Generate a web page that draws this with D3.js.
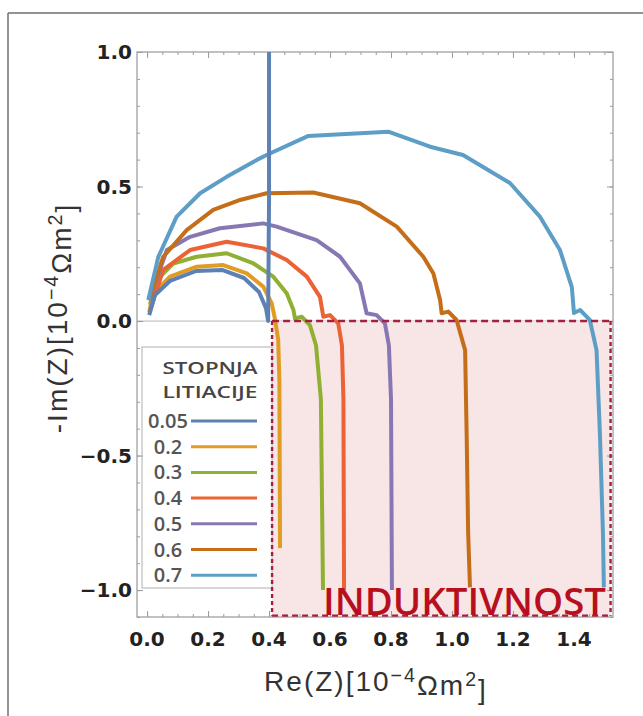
<!DOCTYPE html>
<html><head><meta charset="utf-8">
<script src="https://cdn.jsdelivr.net/npm/d3@7"></script>
<style>body{margin:0;background:#fff}svg{display:block}</style>
</head><body><svg id="c" width="643" height="716"></svg>
<script>
// ---------- data ----------
const levels = ["0.05","0.2","0.3","0.4","0.5","0.6","0.7"];
const seriesColors = ["#5E81B5","#E19C24","#8FB032","#EB6235","#8778B3","#C56E1A","#5D9EC7"];

const s005 = [[0.007,0.022],[0.026,0.097],[0.075,0.149],[0.161,0.186],[0.246,0.19],[0.318,0.16],[0.367,0.108],[0.39,0.048],[0.397,0.0],[0.4,0.45],[0.4,1.05]];
const s02  = [[0.007,0.033],[0.021,0.103],[0.075,0.165],[0.163,0.202],[0.25,0.208],[0.327,0.177],[0.381,0.128],[0.409,0.066],[0.42,0.004],[0.43,-0.07],[0.434,-0.22],[0.436,-0.844]];
const s03  = [[0.01,0.06],[0.021,0.14],[0.086,0.214],[0.163,0.239],[0.261,0.252],[0.349,0.214],[0.414,0.165],[0.458,0.103],[0.48,0.041],[0.485,0.01],[0.507,0.016],[0.534,-0.015],[0.554,-0.09],[0.57,-0.29],[0.577,-1.0]];
const s04  = [[0.01,0.041],[0.053,0.19],[0.141,0.264],[0.261,0.295],[0.381,0.27],[0.458,0.227],[0.524,0.165],[0.567,0.09],[0.578,0.016],[0.6,0.022],[0.627,-0.009],[0.639,-0.09],[0.644,-0.29],[0.646,-1.0]];
const s05  = [[0.007,0.078],[0.065,0.264],[0.141,0.313],[0.239,0.345],[0.381,0.363],[0.425,0.351],[0.556,0.301],[0.633,0.239],[0.698,0.14],[0.72,0.029],[0.753,0.022],[0.78,-0.009],[0.793,-0.09],[0.8,-0.29],[0.803,-1.0]];
const s06  = [[0.01,0.09],[0.053,0.239],[0.13,0.338],[0.217,0.413],[0.305,0.45],[0.392,0.475],[0.545,0.478],[0.698,0.438],[0.819,0.351],[0.906,0.239],[0.939,0.177],[0.961,0.078],[0.966,0.029],[0.988,0.035],[1.015,0.004],[1.043,-0.108],[1.048,-0.417],[1.053,-0.789],[1.059,-0.99]];
const s07  = [[0.004,0.078],[0.037,0.239],[0.097,0.388],[0.174,0.475],[0.261,0.536],[0.36,0.599],[0.392,0.617],[0.529,0.688],[0.791,0.704],[0.928,0.648],[1.036,0.617],[1.19,0.513],[1.289,0.387],[1.354,0.264],[1.393,0.126],[1.4,0.03],[1.42,0.041],[1.452,0.004],[1.474,-0.108],[1.485,-0.416],[1.495,-0.788],[1.498,-0.99]];
const allSeries = [s005,s02,s03,s04,s05,s06,s07];

const xTickValues = [0,0.2,0.4,0.6,0.8,1.0,1.2,1.4];
const xTickLabels = ["0.0","0.2","0.4","0.6","0.8","1.0","1.2","1.4"];
const yTickValues = [-1,-0.5,0,0.5,1];
const yTickLabels = ["\u22121.0","\u22120.5","0.0","0.5","1.0"];
const xDomain = [-0.033, 1.528];
const yDomain = [-1.1, 1.0];
const inductiveX = [0.41, 1.52];
const inductiveY = [0, -1.095];
const legendTitle = ["STOPNJA","LITIACIJE"];
const regionLabel = "INDUKTIVNOST";

// ---------- layout ----------
const svg = d3.select("#c");
const L = 137, R = 613, T = 52, B = 617;
const x = d3.scaleLinear().domain(xDomain).range([L, R]);
const y = d3.scaleLinear().domain(yDomain).range([B, T]);

// outer figure border (top & left visible)
svg.append("line").attr("x1",8).attr("x2",643).attr("y1",13).attr("y2",13).attr("stroke","#6f6f6f").attr("stroke-width",1.5);
svg.append("line").attr("x1",8).attr("x2",8).attr("y1",13).attr("y2",716).attr("stroke","#6f6f6f").attr("stroke-width",1.5);

svg.append("defs").append("clipPath").attr("id","clip")
  .append("rect").attr("x",L).attr("y",T).attr("width",R-L).attr("height",B-T);

// zero line
svg.append("line").attr("x1",L).attr("x2",R).attr("y1",y(0)).attr("y2",y(0)).attr("stroke","#b5b5b5").attr("stroke-width",1);

// inductive region fill
svg.append("rect")
  .attr("x", x(inductiveX[0])).attr("y", y(inductiveY[0]))
  .attr("width", x(inductiveX[1]) - x(inductiveX[0]))
  .attr("height", y(inductiveY[1]) - y(inductiveY[0]))
  .attr("fill","#f8e5e6");

// legend box
const lg = svg.append("g");
lg.append("rect").attr("x",142).attr("y",347).attr("width",x(inductiveX[0])-142).attr("height",241)
  .attr("fill","#fff").attr("stroke","#b0b0b0").attr("stroke-width",1);

// frame + ticks
const frameG = svg.append("g");
function minor(step, dom){ return d3.range(Math.ceil(dom[0]/step-1e-9)*step, dom[1]+1e-9, step).map(v=>+v.toFixed(4)); }
const xMinor = minor(0.05, xDomain), yMinor = minor(0.1, yDomain);
const tickColor = "#9a9a9a";
function styleAxis(g){ g.select(".domain").remove(); g.selectAll("line").attr("stroke",tickColor); g.selectAll("text").remove(); }
frameG.append("g").attr("transform",`translate(0,${B})`).call(d3.axisBottom(x).tickValues(xMinor).tickSize(-3)).call(styleAxis);
frameG.append("g").attr("transform",`translate(0,${B})`).call(d3.axisBottom(x).tickValues(xTickValues).tickSize(-6)).call(styleAxis);
frameG.append("g").attr("transform",`translate(0,${T})`).call(d3.axisTop(x).tickValues(xMinor).tickSize(-3)).call(styleAxis);
frameG.append("g").attr("transform",`translate(0,${T})`).call(d3.axisTop(x).tickValues(xTickValues).tickSize(-6)).call(styleAxis);
frameG.append("g").attr("transform",`translate(${L},0)`).call(d3.axisLeft(y).tickValues(yMinor).tickSize(-3)).call(styleAxis);
frameG.append("g").attr("transform",`translate(${L},0)`).call(d3.axisLeft(y).tickValues(yTickValues).tickSize(-6)).call(styleAxis);
frameG.append("g").attr("transform",`translate(${R},0)`).call(d3.axisRight(y).tickValues(yMinor).tickSize(-3)).call(styleAxis);
frameG.append("g").attr("transform",`translate(${R},0)`).call(d3.axisRight(y).tickValues(yTickValues).tickSize(-6)).call(styleAxis);
frameG.append("rect").attr("x",L).attr("y",T).attr("width",R-L).attr("height",B-T)
  .attr("fill","none").attr("stroke","#a0a0a0").attr("stroke-width",1.3);

// curves
const line = d3.line().x(d=>x(d[0])).y(d=>y(d[1])).curve(d3.curveLinear);
const curveG = svg.append("g").attr("clip-path","url(#clip)");
const order = [1,2,3,4,5,6,0];
order.forEach(i=>{
  curveG.append("path").datum(allSeries[i]).attr("d",line)
    .attr("fill","none").attr("stroke",seriesColors[i]).attr("stroke-width",4)
    .attr("stroke-linejoin","round").attr("stroke-linecap","butt");
});

// dashed border of inductive region
const dashColor = "#a3213f";
const bx0 = x(inductiveX[0]), bx1 = x(inductiveX[1]), by0 = y(inductiveY[0]), by1 = y(inductiveY[1]);
svg.append("line").attr("x1",bx0).attr("x2",bx1).attr("y1",by0).attr("y2",by0).attr("stroke",dashColor).attr("stroke-width",2.6).attr("stroke-dasharray","7,4");
svg.append("line").attr("x1",bx0).attr("x2",bx1).attr("y1",by1).attr("y2",by1).attr("stroke",dashColor).attr("stroke-width",2.4).attr("stroke-dasharray","6,4");
svg.append("line").attr("x1",bx0).attr("x2",bx0).attr("y1",by0).attr("y2",by1).attr("stroke",dashColor).attr("stroke-width",2.4).attr("stroke-dasharray","4,3");
svg.append("line").attr("x1",bx1).attr("x2",bx1).attr("y1",by0).attr("y2",by1).attr("stroke",dashColor).attr("stroke-width",2.4).attr("stroke-dasharray","4,3");

// region label
svg.append("text").attr("x",(323+606)/2).attr("y",615).attr("text-anchor","middle")
  .attr("font-family","'Open Sans', sans-serif").attr("font-weight",600).attr("font-size",37).attr("fill","#b80f1e")
  .attr("textLength",283).attr("lengthAdjust","spacingAndGlyphs").text(regionLabel);

// legend contents
legendTitle.forEach((t,i)=>{
  lg.append("text").attr("x",210).attr("y",374+i*23.5).attr("text-anchor","middle")
    .attr("font-family","'Open Sans', sans-serif").attr("font-weight",600).attr("font-size",17).attr("fill","#454545")
    .attr("textLength",95).attr("lengthAdjust","spacingAndGlyphs").text(t);
});
levels.forEach((lv,i)=>{
  const by = 428 + i*25.7;
  lg.append("text").attr("x",168).attr("y",by).attr("text-anchor","middle")
    .attr("font-family","'Open Sans', sans-serif").attr("font-weight",600).attr("font-size",20).attr("fill","#555").text(lv);
  lg.append("line").attr("x1",191).attr("x2",257).attr("y1",by-7).attr("y2",by-7)
    .attr("stroke",seriesColors[i]).attr("stroke-width",3);
});

// tick labels
const tickFont = "'DejaVu Sans', sans-serif";
svg.append("g").selectAll("text").data(xTickValues).join("text")
  .attr("x",d=>x(d)).attr("y",646).attr("text-anchor","middle")
  .attr("font-family",tickFont).attr("font-weight","bold").attr("font-size",20).attr("fill","#222")
  .text((d,i)=>xTickLabels[i]);
svg.append("g").selectAll("text").data(yTickValues).join("text")
  .attr("x",132).attr("y",d=>y(d)).attr("dy","0.36em").attr("text-anchor","end")
  .attr("font-family",tickFont).attr("font-weight","bold").attr("font-size",20).attr("fill","#222")
  .text((d,i)=>yTickLabels[i]);

// axis titles
function axisTitle(sel, prefix){
  sel.append("tspan").text(prefix + "[10");
  sel.append("tspan").attr("dy","-0.45em").attr("font-size","0.7em").text("\u22124");
  sel.append("tspan").attr("dy","0.45em").text("\u03A9m");
  sel.append("tspan").attr("dy","-0.45em").attr("font-size","0.7em").text("2");
  sel.append("tspan").attr("dy","0.45em").text("]");
}
const xt = svg.append("text").attr("x",376).attr("y",691).attr("text-anchor","middle")
  .attr("font-family","'Liberation Sans', Arial, sans-serif").attr("font-size",28).attr("letter-spacing",2)
  .attr("fill","#333");
axisTitle(xt, "Re(Z)");
const yt = svg.append("text").attr("transform","translate(67,318) rotate(-90)").attr("text-anchor","middle")
  .attr("font-family","'Liberation Sans', Arial, sans-serif").attr("font-size",28).attr("letter-spacing",2)
  .attr("fill","#333");
axisTitle(yt, "-Im(Z)");
</script></body></html>
